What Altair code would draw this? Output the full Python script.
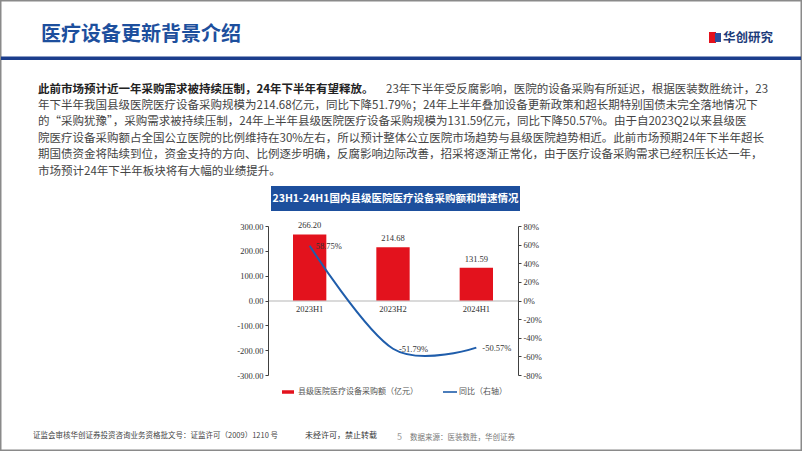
import altair as alt
import pandas as pd

# ---------------- data ----------------
categories = ["2023H1", "2023H2", "2024H1"]
amounts = [266.20, 214.68, 131.59]
yoy = [0.5875, -0.5179, -0.5057]
amount_ticks = [-300, -200, -100, 0, 100, 200, 300]
pct_ticks = [-0.8, -0.6, -0.4, -0.2, 0.0, 0.2, 0.4, 0.6, 0.8]

page_title = "医疗设备更新背景介绍"
logo_text = "华创研究"
chart_title = "23H1-24H1国内县级医院医疗设备采购额和增速情况"
legend_bar = "县级医院医疗设备采购额（亿元）"
legend_line = "同比（右轴）"
para_bold = "此前市场预计近一年采购需求被持续压制，24年下半年有望释放。"
para_lines = [
    "23年下半年受反腐影响，医院的设备采购有所延迟，根据医装数胜统计，23",
    "年下半年我国县级医院医疗设备采购规模为214.68亿元，同比下降51.79%；24年上半年叠加设备更新政策和超长期特别国债未完全落地情况下",
    "的“采购犹豫”，采购需求被持续压制，24年上半年县级医院医疗设备采购规模为131.59亿元，同比下降50.57%。由于自2023Q2以来县级医",
    "院医疗设备采购额占全国公立医院的比例维持在30%左右，所以预计整体公立医院市场趋势与县级医院趋势相近。此前市场预期24年下半年超长",
    "期国债资金将陆续到位，资金支持的方向、比例逐步明确，反腐影响边际改善，招采将逐渐正常化，由于医疗设备采购需求已经积压长达一年，",
    "市场预计24年下半年板块将有大幅的业绩提升。",
]
footer_left = "证监会审核华创证券投资咨询业务资格批文号：证监许可（2009）1210 号"
footer_mid = "未经许可，禁止转载"
page_no = "5"
source_text = "数据来源：医装数胜，华创证券"

bar_df = pd.DataFrame({"cat": categories, "amount": amounts,
                       "label": [f"{v:.2f}" for v in amounts]})
line_df = pd.DataFrame({"cat": categories, "yoy": yoy,
                        "label": [f"{v*100:.2f}%" for v in yoy]})
one = pd.DataFrame({"a": [0]})

# ---------------- layout ----------------
X0, Y0 = 268, 226        # plot-area origin on the page
W, H = 250, 149
CJK = "Noto Sans CJK SC"
SERIF = "Liberation Serif"

xenc = alt.X("cat:N", sort=categories, title=None,
             scale=alt.Scale(paddingInner=0.6, paddingOuter=0.3),
             axis=alt.Axis(orient="bottom", offset=-H / 2, domainColor="#b5b5b5",
                           domainWidth=1, ticks=False, labelAngle=0, labelPadding=4))

y_amount = alt.Y("amount:Q", title=None,
                 scale=alt.Scale(domain=[-300, 300], nice=False, zero=False),
                 axis=alt.Axis(orient="left", values=amount_ticks, labelOverlap=False,
                               domainColor="#404040", tickColor="#404040",
                               labelExpr="(datum.value < 0 ? '-' : '') + format(abs(datum.value), '.2f')"))
y_pct = alt.Y("yoy:Q", title=None,
              scale=alt.Scale(domain=[-0.8, 0.8], nice=False, zero=False),
              axis=alt.Axis(orient="right", values=pct_ticks, labelOverlap=False,
                            domainColor="#404040", tickColor="#404040",
                            labelExpr="(datum.value < 0 ? '-' : '') + format(abs(datum.value), '.0%')"))

bars = alt.Chart(bar_df).mark_bar(color="#e3121d").encode(x=xenc, y=y_amount)
bar_text = alt.Chart(bar_df).mark_text(font=SERIF, fontSize=8.5, color="#333",
                                       dy=-9).encode(x=xenc, y=y_amount, text="label:N")
left = alt.layer(bars, bar_text)

line = alt.Chart(line_df).mark_line(color="#1f5dab", strokeWidth=2,
                                    interpolate="cardinal").encode(x=xenc, y=y_pct)
line_text = alt.Chart(line_df).mark_text(font=SERIF, fontSize=8.5, color="#333",
                                         align="left", dx=6).encode(
    x=xenc, y=y_pct, text="label:N")
right = alt.layer(line, line_text)


def txt(x, y, s, size=10, color="#333", weight="normal", align="left", font=CJK):
    return alt.Chart(one).mark_text(text=s, fontSize=size, color=color,
                                    fontWeight=weight, align=align, font=font,
                                    baseline="middle").encode(
        x=alt.value(x - X0), y=alt.value(y - Y0))


def rect(x1, y1, x2, y2, color):
    return alt.Chart(one).mark_rect(color=color).encode(
        x=alt.value(x1 - X0), x2=alt.value(x2 - X0),
        y=alt.value(y1 - Y0), y2=alt.value(y2 - Y0))


def hline(x1, x2, y, color, w):
    return alt.Chart(one).mark_rule(color=color, strokeWidth=w).encode(
        x=alt.value(x1 - X0), x2=alt.value(x2 - X0),
        y=alt.value(y - Y0))


deco = [
    # page frame (outline only)
    alt.Chart(one).mark_rect(fillOpacity=0, stroke="#8a8a8a", strokeWidth=1.5).encode(
        x=alt.value(0.75 - X0), x2=alt.value(801.25 - X0),
        y=alt.value(0.75 - Y0), y2=alt.value(450.25 - Y0)),
    # header
    txt(41, 35, page_title, size=20, color="#1d4f9d", weight="bold"),
    rect(1, 56.5, 801, 60, "#1b3d8c"),
    rect(709, 32, 716, 43, "#e3121d"),
    rect(715, 33, 721, 42, "#2b4f9e"),
    txt(723, 37.5, logo_text, size=12.5, color="#1d3c7a", weight="bold"),
    # paragraph
    txt(38, 89.5, para_bold, size=11.5, color="#222", weight="bold"),
    txt(386, 89.5, para_lines[0], size=11.5, color="#444"),
]
for i, s in enumerate(para_lines[1:]):
    deco.append(txt(38, 89.5 + 16.4 * (i + 1), s, size=11.5, color="#444"))

deco += [
    # chart title box
    rect(271, 186, 520, 211, "#1d4f9d"),
    txt(395.5, 198.5, chart_title, size=10.5, color="white", weight="bold", align="center"),
    # legend
    hline(282, 294, 392, "#e3121d", 3.5),
    txt(298, 392, legend_bar, size=8, color="#555"),
    hline(443, 457, 392, "#1f5dab", 1.6),
    txt(459, 392, legend_line, size=8, color="#555"),
    # footer
    txt(33, 436, footer_left, size=7.5, color="#444"),
    txt(305, 436, footer_mid, size=8, color="#333"),
    txt(397, 437, page_no, size=9, color="#999"),
    txt(410, 437.5, source_text, size=7.5, color="#777"),
]

chart = alt.layer(*deco, left, right).resolve_scale(y="independent").properties(
    width=W, height=H,
    autosize=alt.AutoSizeParams(type="none"),
    padding={"left": X0, "top": Y0, "right": 802 - X0 - W, "bottom": 451 - Y0 - H},
    background="white",
).configure_view(stroke=None).configure_axis(
    grid=False, domainWidth=1, tickSize=3, labelPadding=2,
    labelFont=SERIF, labelFontSize=8.5, labelColor="#333",
    labelOverlap=False, labelBound=False, labelFlush=False,
)

chart.save("out.html", embed_options={"renderer": "svg", "actions": False})
